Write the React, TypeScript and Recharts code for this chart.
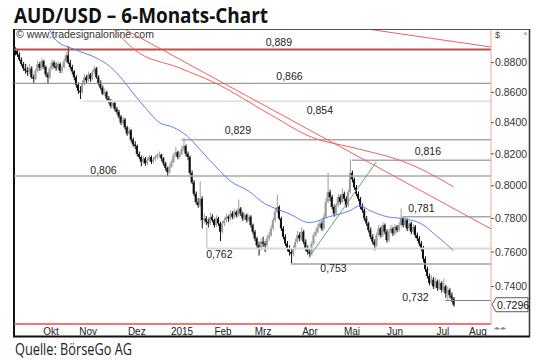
import { ComposedChart, Bar, Line, XAxis, YAxis, ReferenceLine, ReferenceDot, Cell } from 'recharts';

// daily AUD/USD bars, index 0 = 22 Sep 2014
const opens = [
  0.8895, 0.8880, 0.8855, 0.8820, 0.8790, 0.8760, 0.8745, 0.8735, 0.8760, 0.8700,
  0.8690, 0.8745, 0.8790, 0.8765, 0.8810, 0.8770, 0.8720, 0.8700, 0.8760, 0.8800,
  0.8775, 0.8765, 0.8790, 0.8745, 0.8770, 0.8810, 0.8850, 0.8800, 0.8770, 0.8740,
  0.8700, 0.8650, 0.8610, 0.8600, 0.8660, 0.8700, 0.8680, 0.8720, 0.8690, 0.8735,
  0.8760, 0.8700, 0.8660, 0.8630, 0.8590, 0.8600, 0.8560, 0.8540, 0.8510, 0.8530,
  0.8490, 0.8470, 0.8440, 0.8400, 0.8420, 0.8370, 0.8330, 0.8350, 0.8290, 0.8260,
  0.8250, 0.8200, 0.8180, 0.8150, 0.8170, 0.8140, 0.8160, 0.8180, 0.8150, 0.8165,
  0.8180, 0.8190, 0.8195, 0.8170, 0.8140, 0.8110, 0.8085, 0.8120, 0.8150, 0.8190,
  0.8210, 0.8180, 0.8200, 0.8230, 0.8250, 0.8200, 0.8180, 0.8080, 0.8020, 0.7950,
  0.7900, 0.7880, 0.7920, 0.7790, 0.7800, 0.7780, 0.7770, 0.7810, 0.7790, 0.7760,
  0.7800, 0.7770, 0.7720, 0.7770, 0.7790, 0.7810, 0.7800, 0.7830, 0.7810, 0.7840,
  0.7820, 0.7860, 0.7830, 0.7800, 0.7820, 0.7790, 0.7810, 0.7760, 0.7720, 0.7680,
  0.7640, 0.7620, 0.7660, 0.7650, 0.7640, 0.7680, 0.7700, 0.7740, 0.7790, 0.7840,
  0.7870, 0.7800, 0.7740, 0.7690, 0.7650, 0.7620, 0.7600, 0.7590, 0.7620, 0.7660,
  0.7700, 0.7680, 0.7720, 0.7660, 0.7620, 0.7600, 0.7590, 0.7650, 0.7700, 0.7720,
  0.7750, 0.7770, 0.7740, 0.7810, 0.7900, 0.7960, 0.7930, 0.7870, 0.7830, 0.7880,
  0.7930, 0.7900, 0.7950, 0.7920, 0.7880, 0.7960, 0.8080, 0.8040, 0.7990, 0.7950,
  0.7920, 0.7870, 0.7850, 0.7800, 0.7770, 0.7730, 0.7690, 0.7660, 0.7640, 0.7700,
  0.7740, 0.7700, 0.7760, 0.7720, 0.7670, 0.7720, 0.7740, 0.7710, 0.7750, 0.7730,
  0.7760, 0.7800, 0.7760, 0.7790, 0.7740, 0.7770, 0.7720, 0.7750, 0.7700, 0.7680,
  0.7650, 0.7620, 0.7560, 0.7500, 0.7460, 0.7420, 0.7440, 0.7400, 0.7430, 0.7390,
  0.7420, 0.7380, 0.7400, 0.7360, 0.7380, 0.7350, 0.7330,
];
const highs = [
  0.8905, 0.8895, 0.8870, 0.8835, 0.8805, 0.8790, 0.8770, 0.8790, 0.8775, 0.8720,
  0.8760, 0.8815, 0.8805, 0.8830, 0.8820, 0.8780, 0.8735, 0.8775, 0.8820, 0.8815,
  0.8800, 0.8810, 0.8800, 0.8785, 0.8830, 0.8870, 0.8912, 0.8820, 0.8785, 0.8750,
  0.8715, 0.8665, 0.8640, 0.8680, 0.8720, 0.8715, 0.8740, 0.8730, 0.8750, 0.8778,
  0.8770, 0.8715, 0.8680, 0.8645, 0.8625, 0.8610, 0.8575, 0.8555, 0.8545, 0.8540,
  0.8505, 0.8485, 0.8450, 0.8440, 0.8430, 0.8380, 0.8370, 0.8360, 0.8305, 0.8280,
  0.8260, 0.8215, 0.8190, 0.8185, 0.8180, 0.8175, 0.8195, 0.8190, 0.8180, 0.8195,
  0.8205, 0.8215, 0.8200, 0.8180, 0.8150, 0.8120, 0.8135, 0.8165, 0.8205, 0.8242,
  0.8220, 0.8215, 0.8250, 0.8302, 0.8260, 0.8215, 0.8190, 0.8095, 0.8035, 0.7965,
  0.7925, 0.8030, 0.7935, 0.7830, 0.7815, 0.7800, 0.7835, 0.7825, 0.7800, 0.7820,
  0.7810, 0.7780, 0.7785, 0.7805, 0.7830, 0.7820, 0.7850, 0.7845, 0.7860, 0.7850,
  0.7915, 0.7870, 0.7840, 0.7835, 0.7830, 0.7825, 0.7820, 0.7770, 0.7730, 0.7690,
  0.7660, 0.7680, 0.7690, 0.7665, 0.7700, 0.7720, 0.7760, 0.7805, 0.7860, 0.7945,
  0.7880, 0.7810, 0.7755, 0.7705, 0.7665, 0.7640, 0.7615, 0.7640, 0.7680, 0.7725,
  0.7715, 0.7745, 0.7730, 0.7675, 0.7640, 0.7615, 0.7665, 0.7715, 0.7740, 0.7770,
  0.7790, 0.7785, 0.7830, 0.7925, 0.8080, 0.7975, 0.7945, 0.7885, 0.7895, 0.7950,
  0.7945, 0.7985, 0.7965, 0.7935, 0.7975, 0.8165, 0.8095, 0.8050, 0.8005, 0.7965,
  0.7930, 0.7890, 0.7860, 0.7815, 0.7780, 0.7745, 0.7705, 0.7675, 0.7715, 0.7760,
  0.7750, 0.7775, 0.7770, 0.7735, 0.7735, 0.7760, 0.7750, 0.7765, 0.7760, 0.7775,
  0.7860, 0.7810, 0.7805, 0.7800, 0.7785, 0.7780, 0.7765, 0.7760, 0.7715, 0.7695,
  0.7665, 0.7635, 0.7575, 0.7515, 0.7475, 0.7465, 0.7455, 0.7450, 0.7440, 0.7440,
  0.7430, 0.7445, 0.7410, 0.7400, 0.7390, 0.7365, 0.7340,
];
const lows = [
  0.8850, 0.8840, 0.8810, 0.8775, 0.8745, 0.8725, 0.8710, 0.8720, 0.8690, 0.8660,
  0.8680, 0.8735, 0.8745, 0.8750, 0.8755, 0.8705, 0.8662, 0.8690, 0.8750, 0.8760,
  0.8745, 0.8750, 0.8730, 0.8730, 0.8760, 0.8800, 0.8790, 0.8755, 0.8720, 0.8680,
  0.8630, 0.8590, 0.8555, 0.8590, 0.8645, 0.8660, 0.8670, 0.8670, 0.8680, 0.8720,
  0.8690, 0.8645, 0.8615, 0.8580, 0.8575, 0.8545, 0.8525, 0.8495, 0.8500, 0.8475,
  0.8455, 0.8425, 0.8385, 0.8390, 0.8355, 0.8315, 0.8320, 0.8275, 0.8245, 0.8230,
  0.8185, 0.8165, 0.8122, 0.8135, 0.8125, 0.8130, 0.8150, 0.8135, 0.8140, 0.8155,
  0.8165, 0.8175, 0.8155, 0.8125, 0.8095, 0.8058, 0.8075, 0.8110, 0.8140, 0.8180,
  0.8165, 0.8170, 0.8190, 0.8215, 0.8185, 0.8160, 0.8065, 0.8010, 0.7935, 0.7885,
  0.7865, 0.7870, 0.7740, 0.7770, 0.7760, 0.7745, 0.7760, 0.7775, 0.7745, 0.7750,
  0.7755, 0.7665, 0.7710, 0.7755, 0.7775, 0.7780, 0.7790, 0.7795, 0.7800, 0.7805,
  0.7810, 0.7815, 0.7785, 0.7790, 0.7775, 0.7780, 0.7745, 0.7705, 0.7665, 0.7625,
  0.7580, 0.7610, 0.7630, 0.7600, 0.7630, 0.7665, 0.7690, 0.7730, 0.7780, 0.7830,
  0.7790, 0.7725, 0.7675, 0.7635, 0.7605, 0.7580, 0.7532, 0.7575, 0.7610, 0.7650,
  0.7665, 0.7670, 0.7645, 0.7605, 0.7585, 0.7568, 0.7580, 0.7640, 0.7690, 0.7710,
  0.7740, 0.7725, 0.7730, 0.7800, 0.7890, 0.7905, 0.7855, 0.7810, 0.7820, 0.7870,
  0.7885, 0.7890, 0.7905, 0.7865, 0.7870, 0.7950, 0.8020, 0.7975, 0.7935, 0.7905,
  0.7855, 0.7835, 0.7785, 0.7755, 0.7715, 0.7675, 0.7645, 0.7610, 0.7630, 0.7690,
  0.7685, 0.7690, 0.7705, 0.7655, 0.7660, 0.7710, 0.7695, 0.7700, 0.7715, 0.7720,
  0.7750, 0.7745, 0.7750, 0.7725, 0.7730, 0.7705, 0.7710, 0.7685, 0.7665, 0.7635,
  0.7605, 0.7540, 0.7485, 0.7445, 0.7405, 0.7410, 0.7385, 0.7390, 0.7375, 0.7380,
  0.7365, 0.7370, 0.7335, 0.7320, 0.7335, 0.7310, 0.7284,
];
const closes = [
  0.8880, 0.8855, 0.8820, 0.8790, 0.8760, 0.8745, 0.8735, 0.8760, 0.8700, 0.8690,
  0.8745, 0.8790, 0.8765, 0.8810, 0.8770, 0.8720, 0.8700, 0.8760, 0.8800, 0.8775,
  0.8765, 0.8790, 0.8745, 0.8770, 0.8810, 0.8850, 0.8800, 0.8770, 0.8740, 0.8700,
  0.8650, 0.8610, 0.8600, 0.8660, 0.8700, 0.8680, 0.8720, 0.8690, 0.8735, 0.8760,
  0.8700, 0.8660, 0.8630, 0.8590, 0.8600, 0.8560, 0.8540, 0.8510, 0.8530, 0.8490,
  0.8470, 0.8440, 0.8400, 0.8420, 0.8370, 0.8330, 0.8350, 0.8290, 0.8260, 0.8250,
  0.8200, 0.8180, 0.8150, 0.8170, 0.8140, 0.8160, 0.8180, 0.8150, 0.8165, 0.8180,
  0.8190, 0.8195, 0.8170, 0.8140, 0.8110, 0.8085, 0.8120, 0.8150, 0.8190, 0.8210,
  0.8180, 0.8200, 0.8230, 0.8250, 0.8200, 0.8180, 0.8080, 0.8020, 0.7950, 0.7900,
  0.7880, 0.7920, 0.7790, 0.7800, 0.7780, 0.7770, 0.7810, 0.7790, 0.7760, 0.7800,
  0.7770, 0.7720, 0.7770, 0.7790, 0.7810, 0.7800, 0.7830, 0.7810, 0.7840, 0.7820,
  0.7860, 0.7830, 0.7800, 0.7820, 0.7790, 0.7810, 0.7760, 0.7720, 0.7680, 0.7640,
  0.7620, 0.7660, 0.7650, 0.7640, 0.7680, 0.7700, 0.7740, 0.7790, 0.7840, 0.7870,
  0.7800, 0.7740, 0.7690, 0.7650, 0.7620, 0.7600, 0.7590, 0.7620, 0.7660, 0.7700,
  0.7680, 0.7720, 0.7660, 0.7620, 0.7600, 0.7590, 0.7650, 0.7700, 0.7720, 0.7750,
  0.7770, 0.7740, 0.7810, 0.7900, 0.7960, 0.7930, 0.7870, 0.7830, 0.7880, 0.7930,
  0.7900, 0.7950, 0.7920, 0.7880, 0.7960, 0.8080, 0.8040, 0.7990, 0.7950, 0.7920,
  0.7870, 0.7850, 0.7800, 0.7770, 0.7730, 0.7690, 0.7660, 0.7640, 0.7700, 0.7740,
  0.7700, 0.7760, 0.7720, 0.7670, 0.7720, 0.7740, 0.7710, 0.7750, 0.7730, 0.7760,
  0.7800, 0.7760, 0.7790, 0.7740, 0.7770, 0.7720, 0.7750, 0.7700, 0.7680, 0.7650,
  0.7620, 0.7560, 0.7500, 0.7460, 0.7420, 0.7440, 0.7400, 0.7430, 0.7390, 0.7420,
  0.7380, 0.7400, 0.7360, 0.7380, 0.7350, 0.7330, 0.7296,
];

// x axis: month borders and label centres, in bar index units
const monthBounds = [6.5, 29.5, 49.5, 72.5, 93.5, 114.5, 135.5, 157.5, 177.5, 199.5, 224.5];
const monthMids = [17.7, 36, 60, 82.3, 102.5, 122.2, 145.3, 166, 187.2, 210.8, 228.1];
const monthNames = ['Okt', 'Nov', 'Dez', '2015', 'Feb', 'Mrz', 'Apr', 'Mai', 'Jun', 'Jul', 'Aug'];

const priceTicks = [0.74, 0.76, 0.78, 0.8, 0.82, 0.84, 0.86, 0.88];

// blue average
const blueIdx = [12, 17, 20, 30, 40, 47, 53, 58, 65, 71, 78, 85, 91, 100, 106, 115, 123, 126, 135, 145, 155, 165, 170, 175, 183, 191, 200, 208, 216];
const blueVal = [0.9075, 0.9025, 0.8956, 0.8887, 0.8832, 0.8771, 0.8684, 0.8597, 0.8486, 0.8402, 0.8370, 0.8312, 0.8229, 0.8104, 0.8030, 0.7968, 0.7890, 0.7872, 0.7829, 0.7775, 0.7811, 0.7847, 0.7877, 0.7847, 0.7811, 0.7799, 0.7769, 0.7692, 0.7609];

// red average
const redIdx = [44, 48, 59, 81, 99, 126, 147, 165, 171, 188, 200, 216];
const redVal = [0.9096, 0.9039, 0.8887, 0.8764, 0.8660, 0.8451, 0.8302, 0.8244, 0.8225, 0.8166, 0.8104, 0.7993];

// trend lines (start/end)
const trendIdx = [40, 234.5];
const trendVal = [0.9139, 0.7737];
const topTrendIdx = [160, 234.5];
const topTrendVal = [0.906, 0.8907];
const greenIdx = [145, 178];
const greenVal = [0.7572, 0.8149];

// horizontal marks
const levels = [0.889, 0.866, 0.854, 0.829, 0.816, 0.806, 0.781, 0.762, 0.753, 0.732];
const levelFrom = [-0.5, -0.5, 33.5, 82, 166, -0.5, 191, 94.5, 136, 212];
const levelLabelIdx = [130, 135.2, 150.2, 109.8, 203.4, 43.6, 200.2, 100.7, 156.9, 197.3];
const levelLabelVal = [0.8942, 0.871, 0.8479, 0.8354, 0.8215, 0.8099, 0.7859, 0.7584, 0.7502, 0.7337];

const levelStroke = ['#b9534a', '#858585', '#e3e3e3', '#a8a8a8', '#a8a8a8', '#a8a8a8', '#a8a8a8', '#d8d8d8', '#a0a0a0', '#808080'];
const levelWidth = [2, 1, 2, 1.5, 1.5, 1.5, 1.5, 2, 1.5, 1];

const X_MAX = 234.5;
const FONT = '"Liberation Sans", Arial, sans-serif';

const pts = (idx: number[], val: number[]) => idx.map((i, k) => ({ i, v: val[k] }));

function PriceTag(props: any) {
  const vb = props.viewBox || {};
  const x = vb.x + vb.width;
  const y = vb.y;
  return (
    <g>
      <path
        d={`M${x + 1},${y} L${x + 5},${y - 7} H${x + 37} V${y + 7} H${x + 5} Z`}
        fill="#fff"
        stroke="#555"
        strokeLinejoin="round"
      />
      <text x={x + 6} y={y + 4} fontSize={10.5} fill="#111" fontFamily={FONT}>
        {closes[closes.length - 1].toFixed(4)}
      </text>
    </g>
  );
}

export default function App() {
  const bars = opens.map((o, i) => ({
    i,
    hl: [lows[i], highs[i]],
    body: [Math.min(o, closes[i]), Math.max(o, closes[i])],
    up: closes[i] > o,
  }));

  return (
    <div style={{ position: 'absolute', left: 0, top: 0, width: 540, height: 360, background: '#fff' }}>
      <svg width={540} height={360} style={{ position: 'absolute', left: 0, top: 0 }}>
        <text x={14} y={23} fontFamily='"Open Sans", Arial, sans-serif' fontWeight={700} fontSize={21}
          textLength={254} lengthAdjust="spacingAndGlyphs" fill="#111">
          AUD/USD – 6-Monats-Chart
        </text>
        <text x={15} y={355} fontFamily='"Open Sans", Arial, sans-serif' fontSize={16.5}
          textLength={117} lengthAdjust="spacingAndGlyphs" fill="#222">
          Quelle: BörseGo AG
        </text>
        <text x={16} y={37.5} fontFamily={FONT} fontSize={10.5} fill="#333">
          © www.tradesignalonline.com
        </text>
        <text x={495} y={38} fontFamily={FONT} fontSize={9} fill="#444">$</text>
        <text x={523} y={36} fontFamily={FONT} fontSize={8} fill="#777">×</text>
        <text x={494} y={330} fontFamily={FONT} fontSize={6} fill="#888">◂▸◂▸</text>
        <line x1={13} y1={29.5} x2={530} y2={29.5} stroke="#555" strokeWidth={1} />
        <line x1={14} y1={29} x2={14} y2={337} stroke="#111" strokeWidth={2} />
        <line x1={13} y1={336.5} x2={530} y2={336.5} stroke="#111" strokeWidth={2} />
        <line x1={529.5} y1={29} x2={529.5} y2={337} stroke="#333" strokeWidth={1.5} />
      </svg>
      <div style={{ position: 'absolute', left: 0, top: 0 }}>
        <ComposedChart width={540} height={360} data={bars} margin={{ top: 30, right: 0, bottom: 24, left: 14 }}>
          <XAxis
            xAxisId="a"
            dataKey="i"
            type="number"
            domain={[-0.5, X_MAX]}
            allowDataOverflow
            ticks={monthBounds}
            interval={0}
            tick={false}
            tickSize={3}
            height={1}
            axisLine={{ stroke: '#f04848', strokeWidth: 1.5 }}
            tickLine={{ stroke: '#444' }}
          />
          <XAxis
            xAxisId="b"
            dataKey="i"
            type="number"
            domain={[-0.5, X_MAX]}
            allowDataOverflow
            ticks={monthMids}
            interval={0}
            height={11}
            axisLine={false}
            tickLine={false}
            tickSize={0}
            tickMargin={3}
            tickFormatter={(v: number) => monthNames[monthMids.indexOf(v)] ?? ''}
            tick={{ fontSize: 10, fill: '#222', fontFamily: FONT }}
          />
          <YAxis
            yAxisId="p"
            orientation="right"
            type="number"
            scale="log"
            domain={[0.7188, 0.9025]}
            allowDataOverflow
            ticks={priceTicks}
            interval={0}
            width={49}
            tickFormatter={(v: number) => v.toFixed(4)}
            axisLine={{ stroke: '#f2a4a4' }}
            tickLine={{ stroke: '#555' }}
            tickSize={3}
            tickMargin={1}
            tick={{ fontSize: 10.5, fill: '#333', fontFamily: FONT }}
          />

          {levels.map((v, k) => (
            <ReferenceLine
              key={'lv' + k}
              xAxisId="a"
              yAxisId="p"
              segment={[{ x: levelFrom[k], y: v }, { x: X_MAX, y: v }]}
              stroke={levelStroke[k]}
              strokeWidth={levelWidth[k]}
            />
          ))}
          <ReferenceLine
            xAxisId="a"
            yAxisId="p"
            segment={[{ x: 94.5, y: 0.7745 }, { x: 94.5, y: 0.762 }]}
            stroke="#d0d0d0"
            strokeWidth={1.5}
          />

          <Line xAxisId="a" yAxisId="p" data={pts(blueIdx, blueVal)} dataKey="v" type="monotone"
            stroke="#5b7ff0" strokeWidth={1} dot={false} isAnimationActive={false} />
          <Line xAxisId="a" yAxisId="p" data={pts(redIdx, redVal)} dataKey="v" type="monotone"
            stroke="#f26060" strokeWidth={1} dot={false} isAnimationActive={false} />
          <Line xAxisId="a" yAxisId="p" data={pts(trendIdx, trendVal)} dataKey="v" type="linear"
            stroke="#f26060" strokeWidth={1} dot={false} isAnimationActive={false} />
          <Line xAxisId="a" yAxisId="p" data={pts(topTrendIdx, topTrendVal)} dataKey="v" type="linear"
            stroke="#f26060" strokeWidth={1} dot={false} isAnimationActive={false} />
          <Line xAxisId="a" yAxisId="p" data={pts(greenIdx, greenVal)} dataKey="v" type="linear"
            stroke="#5cab5c" strokeWidth={1} dot={false} isAnimationActive={false} />

          <Bar xAxisId="a" yAxisId="p" dataKey="hl" barSize={1} isAnimationActive={false}>
            {bars.map((b, k) => (
              <Cell key={k} fill={b.up ? '#9c9c9c' : '#111'} />
            ))}
          </Bar>
          <Bar xAxisId="b" yAxisId="p" dataKey="body" barSize={2} isAnimationActive={false}>
            {bars.map((b, k) => (
              <Cell key={k} fill={b.up ? '#9c9c9c' : '#111'} />
            ))}
          </Bar>

          {levels.map((v, k) => (
            <ReferenceDot
              key={'lb' + k}
              xAxisId="a"
              yAxisId="p"
              x={levelLabelIdx[k]}
              y={levelLabelVal[k]}
              r={0}
              fill="none"
              stroke="none"
              label={{
                value: v.toFixed(3).replace('.', ','),
                position: 'center',
                fontSize: 10.5,
                fill: '#222',
                fontFamily: FONT,
              }}
            />
          ))}

          <ReferenceLine
            xAxisId="a"
            yAxisId="p"
            y={closes[closes.length - 1]}
            stroke="none"
            label={{ content: (p: any) => <PriceTag viewBox={p.viewBox} /> }}
          />
        </ComposedChart>
      </div>
    </div>
  );
}
